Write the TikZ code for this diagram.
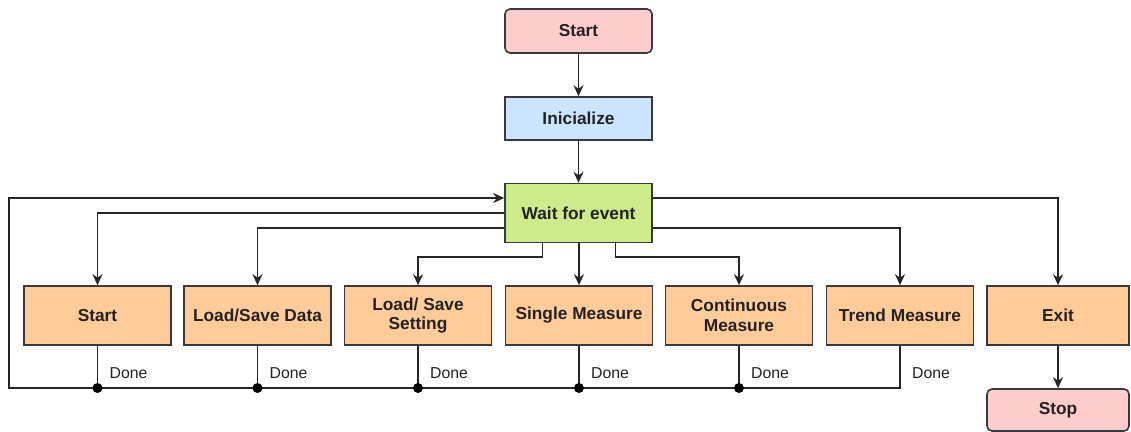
\documentclass[tikz,border=0pt]{standalone}
\usepackage{fontspec}
\setmainfont{Liberation Sans}
\usetikzlibrary{arrows.meta}
\definecolor{pinkf}{HTML}{FFCCCC}
\definecolor{bluef}{HTML}{CCE5FF}
\definecolor{greenf}{HTML}{CDEB8B}
\definecolor{orangef}{HTML}{FFCC99}
\definecolor{strokec}{HTML}{36393D}
\definecolor{txtc}{HTML}{222222}
\tikzset{
  box/.style={draw=strokec, line width=1.6pt, minimum width=147pt, minimum height=59pt, inner sep=2pt,
    align=center, text=txtc, font=\fontsize{17.3}{19.5}\selectfont\bfseries},
  term/.style={box, fill=pinkf, rounded corners=5pt, minimum height=44pt},
  initbox/.style={box, fill=bluef, minimum height=43pt},
  waitbox/.style={box, fill=greenf},
  statebox/.style={box, fill=orangef},
  conn/.style={draw=black!85, line width=1.8pt},
  arr/.style={conn, -{Stealth[length=11pt,width=10pt]}},
  donelbl/.style={anchor=west, text=txtc, font=\fontsize{15.8}{18}\selectfont, inner sep=0pt},
  dot/.style={fill=black}
}
\begin{document}
\begin{tikzpicture}[x=1pt,y=-1pt]
\useasboundingbox (0,0) rectangle (1131,431);
\node[term] (start) at (578.5,31) {Start};
\node[initbox] (init) at (578.5,118.5) {Inicialize};
\node[waitbox] (wait) at (578.5,213) {Wait for event};
\node[statebox] (b1) at (97.5,315.5) {Start};
\node[statebox] (b2) at (257.5,315.5) {Load/Save Data};
\node[statebox] (b3) at (418,315.5) {Load/ Save\\Setting};
\node[statebox] (b4) at (579,315.5) {Single Measure};
\node[statebox] (b5) at (739,315.5) {Continuous\\Measure};
\node[statebox] (b6) at (900,315.5) {Trend Measure};
\node[statebox, minimum width=142pt] (exit) at (1058,315.5) {Exit};
\node[term, minimum width=142pt, minimum height=42pt] (stop) at (1058,410) {Stop};

\coordinate (lb) at (9,388);

\draw[arr] (start) -- (init);
\draw[arr] (init) -- (wait);
\draw[arr] (wait.west) -| (b1.north);
\draw[arr] ([yshift=-15pt]wait.west) -| (b2.north);
\draw[arr] ([xshift=-36pt]wait.south) -- ([xshift=-36pt]wait.south |- 0,257) -| (b3.north);
\draw[arr] (wait.south -| b4.north) -- (b4.north);
\draw[arr] ([xshift=37pt]wait.south) -- ([xshift=37pt]wait.south |- 0,257) -| (b5.north);
\draw[arr] ([yshift=-15pt]wait.east) -| (b6.north);
\draw[arr] ([yshift=15pt]wait.east) -| (exit.north);
\draw[arr] (exit) -- (stop);
\draw[arr] (b6.south) |- (lb) |- ([yshift=15pt]wait.west);
\foreach \b in {b1,b2,b3,b4,b5}{
  \draw[conn] (\b.south) -- (\b.south |- lb);
  \fill[dot] (\b.south |- lb) circle (5);
}
\foreach \b in {b1,b2,b3,b4,b5,b6}{
  \node[donelbl] at ([xshift=12pt]\b.south |- 0,373) {Done};
}
\end{tikzpicture}
\end{document}
